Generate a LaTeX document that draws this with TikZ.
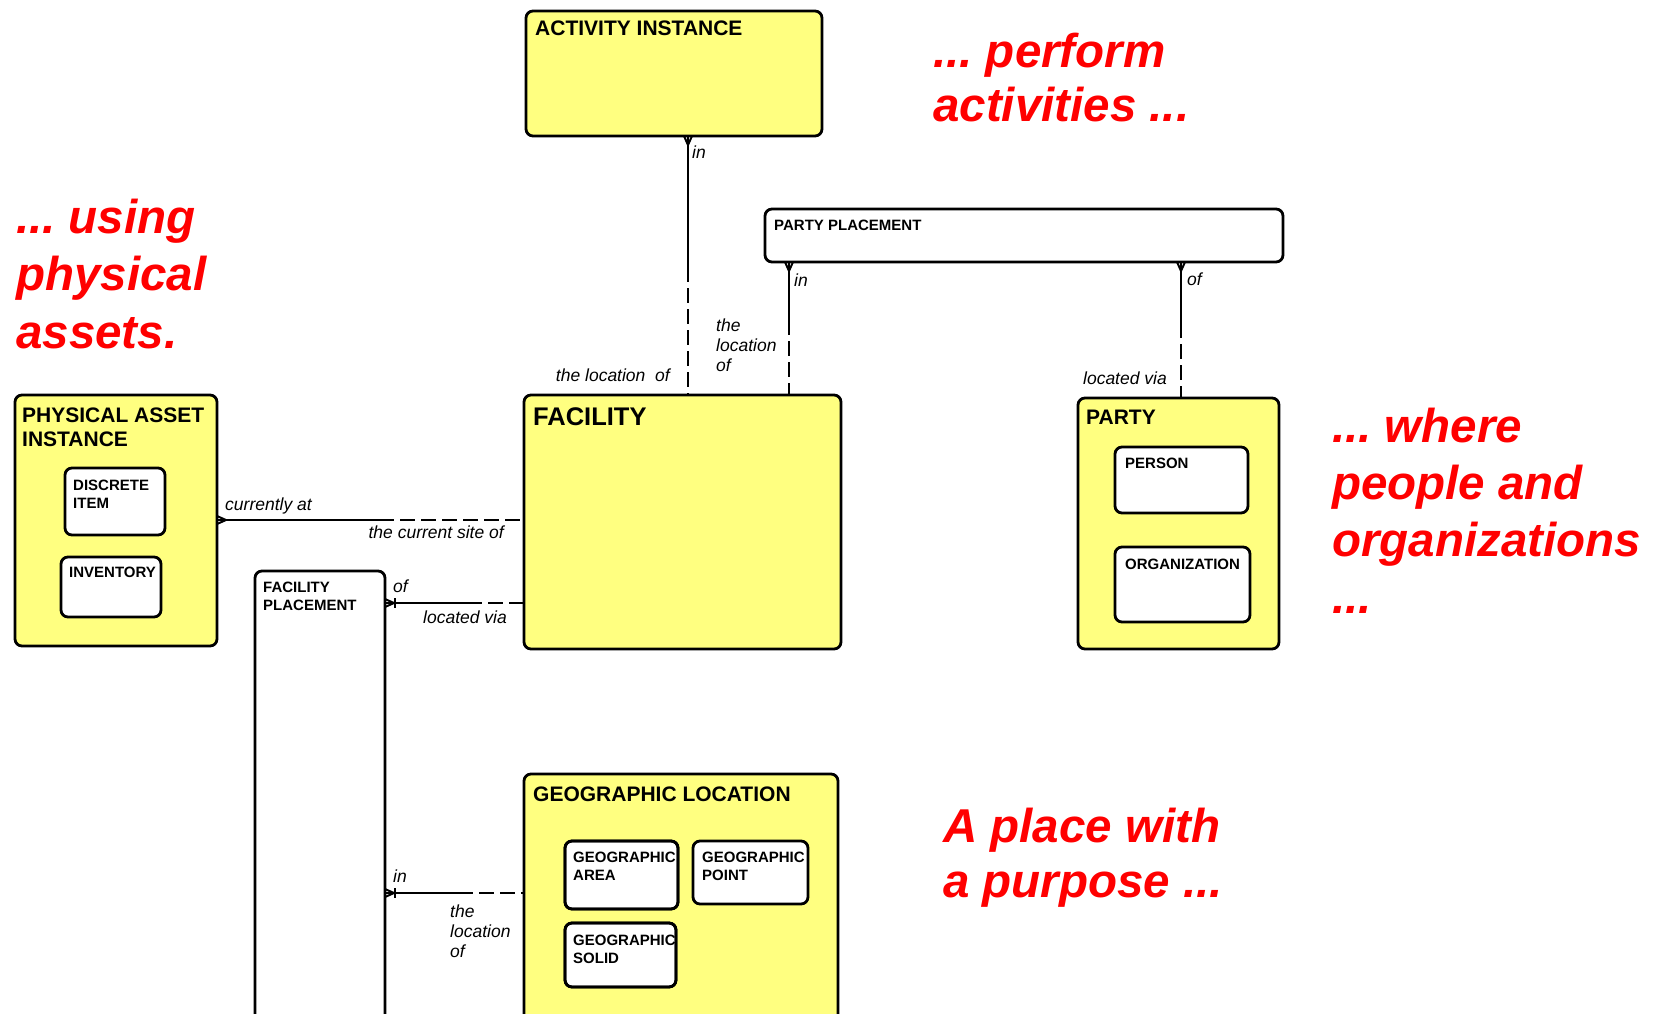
\documentclass[tikz,border=0pt]{standalone}
\usepackage{fontspec}
\setmainfont{Liberation Sans}
\usetikzlibrary{calc}
\definecolor{yel}{HTML}{FFFF80}
\definecolor{redtxt}{HTML}{FF0000}
\frenchspacing
\newcommand\crowdown[1]{\draw[rel] ($(#1)+(-4,0)$) -- ($(#1)+(0,9)$) -- ($(#1)+(4,0)$);}
\newcommand\crowright[1]{\draw[rel] ($(#1)+(0,-4)$) -- ($(#1)+(9,0)$) -- ($(#1)+(0,4)$);}
\newcommand\barright[1]{\draw[rel] ($(#1)+(10,-5)$) -- ($(#1)+(10,5)$);}
\begin{document}
\begin{tikzpicture}[x=1pt,y=-1pt,
  ent/.style={draw, line width=2.8pt, rounded corners=7pt, inner sep=0pt, outer sep=0pt, anchor=north west},
  yent/.style={ent, fill=yel},
  went/.style={ent, fill=white},
  ttl/.style={font=\fontsize{21}{24}\selectfont\bfseries, anchor=north west, inner sep=0pt, align=left},
  sttl/.style={font=\fontsize{15}{17.5}\selectfont\bfseries, anchor=north west, inner sep=0pt, align=left},
  lbl/.style={font=\fontsize{17.5}{20}\selectfont\itshape, inner sep=0pt, align=left},
  rel/.style={line width=2pt},
  reld/.style={rel, dash pattern=on 15pt off 6pt},
  big/.style={text=redtxt, inner sep=0pt, align=left, anchor=base west}
]
\useasboundingbox (0,0) rectangle (1664,1013);
\clip (0,0) rectangle (1664,1013);

% entities
\node[yent, minimum width=296, minimum height=125] (ai) at (526,11) {};
\node[went, minimum width=518, minimum height=53] (pp) at (765,209) {};
\node[yent, minimum width=317, minimum height=254] (fac) at (524,395) {};
\node[yent, minimum width=201, minimum height=251] (party) at (1078,398) {};
\node[went, minimum width=133, minimum height=66] (person) at (1115,447) {};
\node[went, minimum width=135, minimum height=75] (org) at (1115,547) {};
\node[yent, minimum width=202, minimum height=251] (pai) at (15,395) {};
\node[went, minimum width=100, minimum height=67] (di) at (65,468) {};
\node[went, minimum width=100, minimum height=60] (inv) at (61,557) {};
\node[went, minimum width=130, minimum height=480] (fp) at (255,571) {};
\node[yent, minimum width=314, minimum height=280] (geo) at (524,774) {};
\node[went, minimum width=113, minimum height=68] (ga) at (565,841) {};
\node[went, minimum width=115, minimum height=63] (gp) at (693,841) {};
\node[went, minimum width=111, minimum height=64] (gs) at (565,923) {};

% titles
\node[ttl] (tai) at (535,21) {ACTIVITY INSTANCE};
\node[sttl] (tpp) at (774,220) {PARTY PLACEMENT};
\node[ttl, font=\fontsize{25.5}{28}\selectfont\bfseries] (tfac) at (533,407) {FACILITY};
\node[ttl] (tparty) at (1086,410) {PARTY};
\node[sttl] (tperson) at (1125,458) {PERSON};
\node[sttl] (torg) at (1125,559) {ORGANIZATION};
\node[ttl] (tpai) at (22,408) {PHYSICAL ASSET\\INSTANCE};
\node[sttl] (tdi) at (73,480) {DISCRETE\\ITEM};
\node[sttl] (tinv) at (69,567) {INVENTORY};
\node[sttl] (tfp) at (263,582) {FACILITY\\PLACEMENT};
\node[ttl] (tgeo) at (533,787) {GEOGRAPHIC LOCATION};
\node[sttl] (tga) at (573,852) {GEOGRAPHIC\\AREA};
\node[sttl] (tgp) at (702,852) {GEOGRAPHIC\\POINT};
\node[sttl] (tgs) at (573,935) {GEOGRAPHIC\\SOLID};
\draw[line width=2.8pt, rounded corners=7pt] (ga.north west) rectangle (ga.south east);
\draw[line width=2.8pt, rounded corners=7pt] (gs.north west) rectangle (gs.south east);

% connectors
\coordinate (x1) at (688,0);
\coordinate (x2) at (789,0);
\coordinate (x3) at (1181,0);
\coordinate (y4) at (0,520);
\coordinate (y5) at (0,603);
\coordinate (y6) at (0,893);

\coordinate (c1a) at (ai.south -| x1);
\coordinate (c1b) at (fac.north -| x1);
\coordinate (c1m) at (688,267);
\draw[rel] (c1a) -- (c1m);
\draw[reld] (c1m) -- (c1b);
\crowdown{c1a}

\coordinate (c2a) at (pp.south -| x2);
\coordinate (c2b) at (fac.north -| x2);
\coordinate (c2m) at (789,320);
\draw[rel] (c2a) -- (c2m);
\draw[reld] (c2m) -- (c2b);
\crowdown{c2a}

\coordinate (c3a) at (pp.south -| x3);
\coordinate (c3b) at (party.north -| x3);
\coordinate (c3m) at (1181,323);
\draw[rel] (c3a) -- (c3m);
\draw[reld] (c3m) -- (c3b);
\crowdown{c3a}

\coordinate (c4a) at (pai.east |- y4);
\coordinate (c4b) at (fac.west |- y4);
\coordinate (c4m) at (379,520);
\draw[rel] (c4a) -- (c4m);
\draw[reld] (c4m) -- (c4b);
\crowright{c4a}

\coordinate (c5a) at (fp.east |- y5);
\coordinate (c5b) at (fac.west |- y5);
\coordinate (c5m) at (467,603);
\draw[rel] (c5a) -- (c5m);
\draw[reld] (c5m) -- (c5b);
\crowright{c5a}
\barright{c5a}

\coordinate (c6a) at (fp.east |- y6);
\coordinate (c6b) at (geo.west |- y6);
\coordinate (c6m) at (458,893);
\draw[rel] (c6a) -- (c6m);
\draw[reld] (c6m) -- (c6b);
\crowright{c6a}
\barright{c6a}

% connector labels (multi-line: anchor at last baseline)
\node[lbl, anchor=base west] (l1a) at (692,158) {in};
\node[lbl, anchor=base east] (l1b) at (670,381) {the location~ of};
\node[lbl, anchor=base west] (l2a) at (794,286) {in};
\node[lbl, anchor=base west] (l2b) at (716,371) {the\\location\\of};
\node[lbl, anchor=base west] (l3a) at (1187,285) {of};
\node[lbl, anchor=base east] (l3b) at (1167,384) {located via};
\node[lbl, anchor=base west] (l4a) at (225,510) {currently at};
\node[lbl, anchor=base east] (l4b) at (504,538) {the current site of};
\node[lbl, anchor=base west] (l5a) at (393,592) {of};
\node[lbl, anchor=base west] (l5b) at (423,623) {located via};
\node[lbl, anchor=base west] (l6a) at (393,882) {in};
\node[lbl, anchor=base west] (l6b) at (450,957) {the\\location\\of};

% red commentary (anchored at last baseline)
\node[big, font=\fontsize{47.5}{54}\selectfont\bfseries\itshape] (r1) at (933,121) {... perform\\activities ...};
\node[big, font=\fontsize{47.5}{57.5}\selectfont\bfseries\itshape] (r2) at (16,348) {... using\\physical\\assets.};
\node[big, font=\fontsize{47.5}{57}\selectfont\bfseries\itshape] (r3) at (1332,613) {... where\\people and\\organizations\\...};
\node[big, font=\fontsize{47.5}{55}\selectfont\bfseries\itshape] (r4) at (943,897) {A place with\\a purpose ...};
\end{tikzpicture}
\end{document}
